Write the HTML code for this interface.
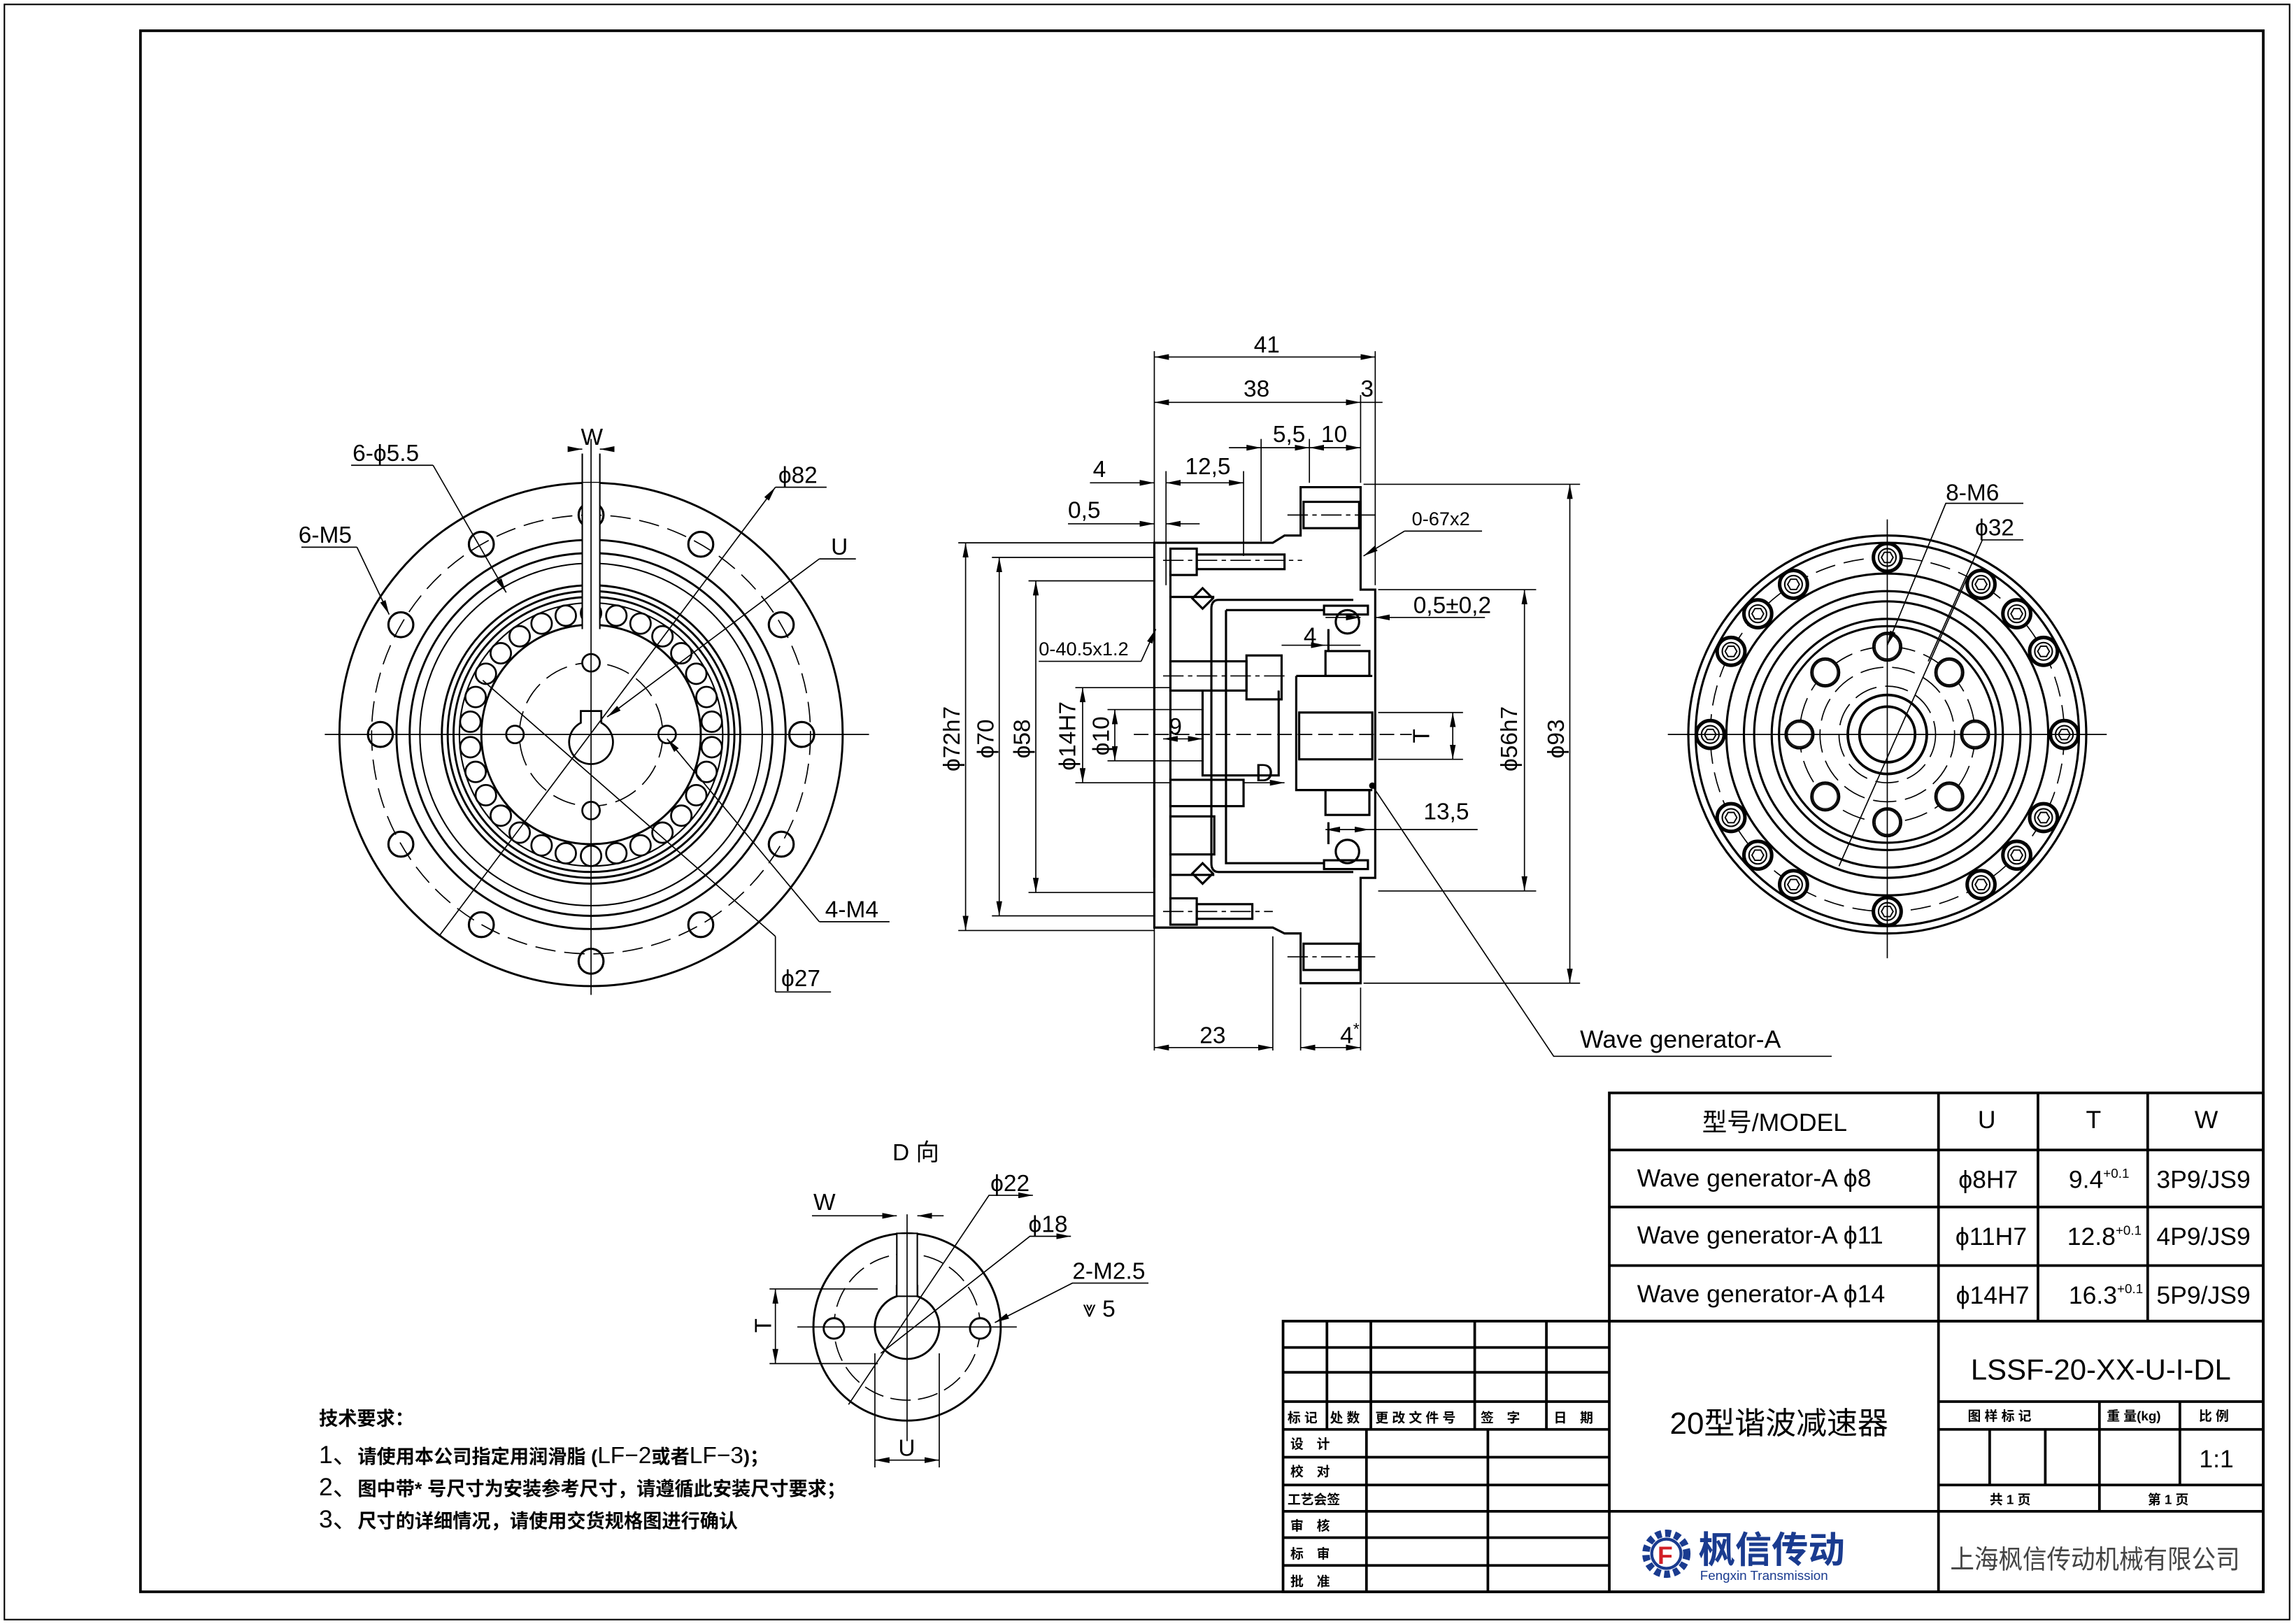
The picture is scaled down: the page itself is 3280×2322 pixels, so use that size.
<!DOCTYPE html>
<html><head><meta charset="utf-8">
<style>
html,body{margin:0;padding:0;background:#fff;}
svg{display:block;}
text{font-family:"Liberation Sans","Noto Sans CJK SC",sans-serif;fill:#000;}
</style></head><body>
<svg width="3280" height="2322" viewBox="0 0 1568 1110" xmlns="http://www.w3.org/2000/svg">
<defs>
<marker id="a" viewBox="0 0 10 4" refX="10" refY="2" markerWidth="10" markerHeight="4" orient="auto-start-reverse" markerUnits="userSpaceOnUse"><path d="M0,0 L10,2 L0,4 z" fill="#000"/></marker>
<g id="hx"><circle r="9.5" fill="#fff" stroke="#000" stroke-width="2.4"/><circle r="6" fill="none" stroke="#000" stroke-width="1"/><polygon points="-4,0 -2,-3.5 2,-3.5 4,0 2,3.5 -2,3.5" fill="none" stroke="#000" stroke-width="0.9"/></g>
<g id="ih"><circle r="9.5" fill="#fff" stroke="#000" stroke-width="1.6"/><circle r="8.3" fill="none" stroke="#000" stroke-width="0.7"/></g>
<g id="lh"><circle r="8.5" fill="none" stroke="#000" stroke-width="1.5"/></g>
<g id="ro"><circle r="7" fill="#fff" stroke="#000" stroke-width="1.3"/></g>
</defs>
<rect x="0" y="0" width="1568" height="1110" fill="#fff"/>
<rect x="3" y="3" width="1562" height="1104" fill="none" stroke="#000" stroke-width="1"/>
<rect x="96" y="21" width="1451" height="1067" fill="none" stroke="#000" stroke-width="1.8"/>

<!-- ================= LEFT VIEW ================= -->
<g fill="none" stroke="#000" stroke-width="1.4">
<circle cx="404" cy="502" r="172"/>
<circle cx="404" cy="502" r="150" stroke-width="0.8" stroke-dasharray="14 6"/>
<circle cx="404" cy="502" r="133"/>
<circle cx="404" cy="502" r="124"/>
<circle cx="404" cy="502" r="117" stroke-width="1"/>
<circle cx="404" cy="502" r="102"/>
<circle cx="404" cy="502" r="98"/>
<circle cx="404" cy="502" r="94"/>
<circle cx="404" cy="502" r="90" stroke-width="1"/>
<circle cx="404" cy="502" r="75"/>
<circle cx="404" cy="502" r="49" stroke-width="0.8" stroke-dasharray="16 6"/>
</g>
<g>
<use href="#lh" x="404" y="352"/><use href="#lh" x="479" y="372"/><use href="#lh" x="534" y="427"/>
<use href="#lh" x="534" y="577"/><use href="#lh" x="479" y="632"/><use href="#lh" x="404" y="657"/>
<use href="#lh" x="329" y="632"/><use href="#lh" x="274" y="577"/><use href="#lh" x="274" y="427"/><use href="#lh" x="329" y="372"/>
<use href="#lh" x="260" y="502"/><use href="#lh" x="548" y="502"/>
</g>
<g>
<use href="#ro" x="404" y="419"/><use href="#ro" x="421.3" y="420.8"/><use href="#ro" x="437.8" y="426.2"/><use href="#ro" x="452.8" y="434.9"/><use href="#ro" x="465.7" y="446.5"/><use href="#ro" x="475.9" y="460.5"/><use href="#ro" x="482.9" y="476.4"/><use href="#ro" x="486.5" y="493.3"/><use href="#ro" x="486.5" y="510.7"/><use href="#ro" x="482.9" y="527.6"/><use href="#ro" x="475.9" y="543.5"/><use href="#ro" x="465.7" y="557.5"/><use href="#ro" x="452.8" y="569.1"/><use href="#ro" x="437.8" y="577.8"/><use href="#ro" x="421.3" y="583.2"/><use href="#ro" x="404" y="585"/>
<use href="#ro" x="386.7" y="583.2"/><use href="#ro" x="370.2" y="577.8"/><use href="#ro" x="355.2" y="569.1"/><use href="#ro" x="342.3" y="557.5"/><use href="#ro" x="332.1" y="543.5"/><use href="#ro" x="325.1" y="527.6"/><use href="#ro" x="321.5" y="510.7"/><use href="#ro" x="321.5" y="493.3"/><use href="#ro" x="325.1" y="476.4"/><use href="#ro" x="332.1" y="460.5"/><use href="#ro" x="342.3" y="446.5"/><use href="#ro" x="355.2" y="434.9"/><use href="#ro" x="370.2" y="426.2"/><use href="#ro" x="386.7" y="420.8"/>
</g>
<g fill="#fff" stroke="#000" stroke-width="1.3">
<rect x="398" y="330" width="12" height="100" stroke="none"/>
<line x1="398" y1="310" x2="398" y2="430" stroke-width="1"/><line x1="410" y1="310" x2="410" y2="430" stroke-width="1"/>
<circle cx="404" cy="453" r="6"/><circle cx="404" cy="554" r="6"/><circle cx="352" cy="502" r="6"/><circle cx="456" cy="502" r="6"/>
<path d="M397,486 L397,494 A15,15 0 1 0 411,494 L411,486 Z"/>
</g>
<g stroke="#000" stroke-width="0.8" fill="none">
<line x1="222" y1="502" x2="594" y2="502"/>
<line x1="404" y1="300" x2="404" y2="680"/>
<line x1="296" y1="318" x2="346" y2="405" marker-end="url(#a)"/>
<line x1="240" y1="318" x2="296" y2="318"/>
<line x1="206" y1="374" x2="244" y2="374"/><line x1="244" y1="374" x2="266" y2="420" marker-end="url(#a)"/>
<line x1="390" y1="307" x2="398" y2="307" marker-end="url(#a)"/><line x1="418" y1="307" x2="410" y2="307" marker-end="url(#a)"/>
<line x1="530" y1="333" x2="565" y2="333"/><line x1="530" y1="333" x2="300" y2="640" marker-start="url(#a)"/>
<line x1="560" y1="382" x2="585" y2="382"/><line x1="560" y1="382" x2="415" y2="490" marker-end="url(#a)"/>
<line x1="330" y1="465" x2="530" y2="640"/><line x1="530" y1="640" x2="530" y2="678"/><line x1="530" y1="678" x2="568" y2="678"/>
<line x1="560" y1="630" x2="608" y2="630"/><line x1="560" y1="630" x2="456" y2="505" marker-end="url(#a)"/>
</g>
<g font-size="16">
<text x="241" y="315">6-ϕ5.5</text>
<text x="397" y="304">W</text>
<text x="532" y="330">ϕ82</text>
<text x="568" y="379">U</text>
<text x="204" y="371">6-M5</text>
<text x="564" y="627">4-M4</text>
<text x="534" y="674">ϕ27</text>
</g>

<!-- ================= SECTION VIEW ================= -->
<g fill="none" stroke="#000" stroke-width="1.5">
<path d="M789,403 L789,600"/>
<path d="M789,371 L870,371 L878,366 L889,366 L889,333 L930,333 L930,403 L940,403 L940,600 L930,600 L930,672 L889,672 L889,638 L878,638 L870,634 L789,634 Z" stroke-width="1.5"/>
<path d="M800,390 L800,615"/>
<rect x="891" y="343" width="38" height="18"/><rect x="891" y="645" width="38" height="18"/>
<rect x="800" y="375" width="18" height="18"/><rect x="818" y="379" width="60" height="10"/>
<rect x="800" y="614" width="18" height="18"/><rect x="818" y="618" width="38" height="10"/>
<path d="M833,410 L925,410 M833,410 Q828,410 828,416 L828,590 Q828,596 833,596 L925,596"/>
<path d="M838,417 L905,417 M838,417 L838,590 L905,590"/>
<path d="M800,408 L830,408 M800,598 L830,598"/>
<polygon points="822,402 829,409 822,416 815,409"/><polygon points="822,590 829,597 822,604 815,597"/>
<circle cx="921" cy="425" r="8"/><circle cx="921" cy="582" r="8"/>
<rect x="905" y="414" width="30" height="6"/><rect x="905" y="588" width="30" height="6"/>
<path d="M908,430 L908,445 M908,562 L908,577"/>
<rect x="800" y="452" width="52" height="20"/><rect x="852" y="448" width="24" height="30"/>
<rect x="800" y="533" width="50" height="18"/>
<rect x="800" y="558" width="30" height="26"/>
<path d="M822,472 L822,530 L874,530 L874,472"/>
<path d="M886,462 L938,462 M886,462 L886,540 L938,540"/>
<rect x="888" y="487" width="50" height="32"/>
<rect x="906" y="445" width="30" height="17"/><rect x="906" y="540" width="30" height="17"/>
</g>
<g stroke="#000" stroke-width="0.8" fill="none">
<line x1="789" y1="240" x2="789" y2="718"/><line x1="940" y1="240" x2="940" y2="400"/>
<line x1="930" y1="270" x2="930" y2="330"/><line x1="862" y1="300" x2="862" y2="370"/><line x1="895" y1="300" x2="895" y2="330"/>
<line x1="797" y1="322" x2="797" y2="400"/><line x1="850" y1="322" x2="850" y2="380"/>
<line x1="889" y1="675" x2="889" y2="718"/><line x1="930" y1="675" x2="930" y2="718"/><line x1="870" y1="640" x2="870" y2="718"/>
<line x1="655" y1="371" x2="789" y2="371"/><line x1="655" y1="636" x2="789" y2="636"/>
<line x1="678" y1="381" x2="789" y2="381"/><line x1="678" y1="626" x2="789" y2="626"/>
<line x1="703" y1="397" x2="789" y2="397"/><line x1="703" y1="610" x2="789" y2="610"/>
<line x1="735" y1="470" x2="800" y2="470"/><line x1="735" y1="535" x2="800" y2="535"/>
<line x1="757" y1="485" x2="822" y2="485"/><line x1="757" y1="520" x2="822" y2="520"/>
<line x1="942" y1="403" x2="1050" y2="403"/><line x1="942" y1="609" x2="1050" y2="609"/>
<line x1="932" y1="331" x2="1080" y2="331"/><line x1="932" y1="672" x2="1080" y2="672"/>
<line x1="942" y1="487" x2="1000" y2="487"/><line x1="942" y1="519" x2="1000" y2="519"/>
<line x1="789" y1="244" x2="940" y2="244" marker-start="url(#a)" marker-end="url(#a)"/>
<line x1="789" y1="275" x2="930" y2="275" marker-start="url(#a)" marker-end="url(#a)"/>
<line x1="930" y1="275" x2="945" y2="275"/>
<line x1="840" y1="306" x2="862" y2="306" marker-end="url(#a)"/><line x1="862" y1="306" x2="895" y2="306" marker-end="url(#a)"/><line x1="895" y1="306" x2="930" y2="306" marker-start="url(#a)" marker-end="url(#a)"/>
<line x1="745" y1="330" x2="789" y2="330" marker-end="url(#a)"/>
<line x1="797" y1="330" x2="850" y2="330" marker-start="url(#a)" marker-end="url(#a)"/>
<line x1="730" y1="358" x2="789" y2="358" marker-end="url(#a)"/><line x1="820" y1="358" x2="797" y2="358" marker-end="url(#a)"/>
<line x1="660" y1="371" x2="660" y2="636" marker-start="url(#a)" marker-end="url(#a)"/>
<line x1="683" y1="381" x2="683" y2="626" marker-start="url(#a)" marker-end="url(#a)"/>
<line x1="708" y1="397" x2="708" y2="610" marker-start="url(#a)" marker-end="url(#a)"/>
<line x1="740" y1="470" x2="740" y2="535" marker-start="url(#a)" marker-end="url(#a)"/>
<line x1="762" y1="485" x2="762" y2="520" marker-start="url(#a)" marker-end="url(#a)"/>
<line x1="1042" y1="403" x2="1042" y2="609" marker-start="url(#a)" marker-end="url(#a)"/>
<line x1="1073" y1="331" x2="1073" y2="672" marker-start="url(#a)" marker-end="url(#a)"/>
<line x1="993" y1="487" x2="993" y2="519" marker-start="url(#a)" marker-end="url(#a)"/>
<line x1="789" y1="716" x2="870" y2="716" marker-start="url(#a)" marker-end="url(#a)"/>
<line x1="889" y1="716" x2="930" y2="716" marker-start="url(#a)" marker-end="url(#a)"/>
<line x1="795" y1="505" x2="822" y2="505" marker-start="url(#a)" marker-end="url(#a)"/>
<line x1="906" y1="567" x2="936" y2="567" marker-start="url(#a)" marker-end="url(#a)"/><line x1="936" y1="567" x2="1010" y2="567"/>
<line x1="876" y1="441" x2="906" y2="441" marker-end="url(#a)"/><line x1="930" y1="441" x2="906" y2="441"/>
<line x1="1015" y1="422" x2="940" y2="422" marker-end="url(#a)"/><line x1="906" y1="422" x2="930" y2="422" marker-end="url(#a)"/>
<line x1="960" y1="363" x2="1013" y2="363"/><line x1="960" y1="363" x2="932" y2="380" marker-end="url(#a)"/>
<line x1="710" y1="452" x2="780" y2="452"/><line x1="780" y1="452" x2="790" y2="430" marker-end="url(#a)"/>
<line x1="850" y1="535" x2="878" y2="535" marker-end="url(#a)"/>
<line x1="775" y1="502" x2="965" y2="502" stroke-dasharray="10 4"/>
<line x1="795" y1="383" x2="890" y2="383" stroke-dasharray="14 3 3 3"/>
<line x1="880" y1="352" x2="940" y2="352" stroke-dasharray="14 3 3 3"/>
<line x1="880" y1="654" x2="940" y2="654" stroke-dasharray="14 3 3 3"/>
<line x1="795" y1="462" x2="880" y2="462" stroke-dasharray="14 3 3 3"/>
<line x1="795" y1="623" x2="870" y2="623" stroke-dasharray="14 3 3 3"/>
<circle cx="938" cy="537" r="1.8" fill="#000"/>
<polyline points="938,537 1062,722 1252,722"/>
</g>
<g font-size="16">
<text x="857" y="241">41</text>
<text x="850" y="271">38</text>
<text x="930" y="271">3</text>
<text x="870" y="302">5,5</text>
<text x="903" y="302">10</text>
<text x="747" y="326">4</text>
<text x="810" y="324">12,5</text>
<text x="730" y="354">0,5</text>
<text x="965" y="359" font-size="13">0-67x2</text>
<text x="966" y="419">0,5±0,2</text>
<text x="710" y="448" font-size="13">0-40.5x1.2</text>
<text x="891" y="440">4</text>
<text x="799" y="502">9</text>
<text x="858" y="534" font-size="17">D</text>
<text x="973" y="560">13,5</text>
<text x="820" y="713">23</text>
<text x="916" y="713">4<tspan font-size="11" dy="-6">*</tspan></text>
<text transform="translate(656,505) rotate(-90)" text-anchor="middle">ϕ72h7</text>
<text transform="translate(679,505) rotate(-90)" text-anchor="middle">ϕ70</text>
<text transform="translate(704,505) rotate(-90)" text-anchor="middle">ϕ58</text>
<text transform="translate(735,503) rotate(-90)" text-anchor="middle">ϕ14H7</text>
<text transform="translate(758,503) rotate(-90)" text-anchor="middle">ϕ10</text>
<text transform="translate(1037,505) rotate(-90)" text-anchor="middle">ϕ56h7</text>
<text transform="translate(1069,505) rotate(-90)" text-anchor="middle">ϕ93</text>
<text transform="translate(977,503) rotate(-90)" text-anchor="middle">T</text>
<text x="1080" y="716" font-size="17">Wave generator-A</text>
</g>

<!-- ================= RIGHT VIEW ================= -->
<g fill="none" stroke="#000" stroke-width="1.5">
<circle cx="1290" cy="502" r="136"/>
<circle cx="1290" cy="502" r="131"/>
<circle cx="1290" cy="502" r="121" stroke-width="0.8" stroke-dasharray="14 6"/>
<circle cx="1290" cy="502" r="110"/>
<circle cx="1290" cy="502" r="98"/>
<circle cx="1290" cy="502" r="91"/>
<circle cx="1290" cy="502" r="79"/>
<circle cx="1290" cy="502" r="74"/>
<circle cx="1290" cy="502" r="60" stroke-width="0.8" stroke-dasharray="16 6"/>
<circle cx="1290" cy="502" r="46" stroke-width="0.8" stroke-dasharray="16 6"/>
<circle cx="1290" cy="502" r="33" stroke-width="0.8" stroke-dasharray="16 6"/>
<circle cx="1290" cy="502" r="27" stroke-width="1.8"/>
<circle cx="1290" cy="502" r="19" stroke-width="1.8"/>
</g>
<g>
<use href="#hx" x="1290" y="381"/><use href="#hx" x="1290" y="623"/><use href="#hx" x="1169" y="502"/><use href="#hx" x="1411" y="502"/>
<use href="#hx" x="1354.1" y="399.4"/><use href="#hx" x="1378.5" y="419.5"/><use href="#hx" x="1396.8" y="445.2"/>
<use href="#hx" x="1225.9" y="399.4"/><use href="#hx" x="1201.5" y="419.5"/><use href="#hx" x="1183.2" y="445.2"/>
<use href="#hx" x="1354.1" y="604.6"/><use href="#hx" x="1378.5" y="584.5"/><use href="#hx" x="1396.8" y="558.8"/>
<use href="#hx" x="1225.9" y="604.6"/><use href="#hx" x="1201.5" y="584.5"/><use href="#hx" x="1183.2" y="558.8"/>
<use href="#ih" x="1290" y="442"/><use href="#ih" x="1290" y="562"/><use href="#ih" x="1230" y="502"/><use href="#ih" x="1350" y="502"/>
<use href="#ih" x="1332.4" y="459.6"/><use href="#ih" x="1247.6" y="459.6"/><use href="#ih" x="1332.4" y="544.4"/><use href="#ih" x="1247.6" y="544.4"/>
</g>
<g stroke="#000" stroke-width="0.8" fill="none">
<line x1="1140" y1="502" x2="1440" y2="502"/><line x1="1290" y1="355" x2="1290" y2="655"/>
<polyline points="1383,344 1330,344 1290,441" marker-end="url(#a)"/>
<polyline points="1383,369 1355,369 1318,452"/>
<line x1="1345" y1="394" x2="1257" y2="592"/>
</g>
<g font-size="16">
<text x="1330" y="342">8-M6</text>
<text x="1350" y="366">ϕ32</text>
</g>

<!-- ================= D VIEW ================= -->
<g fill="none" stroke="#000" stroke-width="1.4">
<circle cx="620" cy="907" r="64"/>
<circle cx="620" cy="907" r="50" stroke-width="0.8" stroke-dasharray="14 5"/>
<path d="M613,886 L613,879 L627,879 L627,886 A22,22 0 1 1 613,886 Z" fill="#fff"/>
<rect x="613" y="843" width="14" height="43" stroke-width="1" fill="#fff"/>
<circle cx="570" cy="908" r="7" fill="#fff"/><circle cx="670" cy="908" r="7" fill="#fff"/>
</g>
<g stroke="#000" stroke-width="0.8" fill="none">
<line x1="545" y1="907" x2="695" y2="907"/><line x1="620" y1="830" x2="620" y2="985"/>
<polyline points="706,817 676,817 580,960" marker-start="url(#a)"/>
<polyline points="732,845 704,845 602,925" marker-start="url(#a)"/>
<polyline points="785,877 733,877 680,904" marker-end="url(#a)"/>
<line x1="555" y1="831" x2="613" y2="831" marker-end="url(#a)"/><line x1="645" y1="831" x2="627" y2="831" marker-end="url(#a)"/>
<line x1="530" y1="881" x2="530" y2="932" marker-start="url(#a)" marker-end="url(#a)"/>
<line x1="526" y1="881" x2="600" y2="881"/><line x1="526" y1="932" x2="600" y2="932"/>
<line x1="598" y1="998" x2="642" y2="998" marker-start="url(#a)" marker-end="url(#a)"/>
<line x1="598" y1="925" x2="598" y2="1003"/><line x1="642" y1="925" x2="642" y2="1003"/>
</g>
<g font-size="16">
<text x="610" y="793">D 向</text>
<text x="677" y="814">ϕ22</text>
<text x="703" y="842">ϕ18</text>
<text x="733" y="874">2-M2.5</text>
<text x="740" y="900">⩔ 5</text>
<text x="556" y="827">W</text>
<text transform="translate(527,906) rotate(-90)" text-anchor="middle">T</text>
<text x="614" y="995">U</text>
</g>

<!-- ================= NOTES ================= -->
<g font-size="13" font-weight="bold">
<text x="218" y="974">技术要求：</text>
<text x="218" y="1000"><tspan font-size="17" font-weight="normal">1、</tspan>请使用本公司指定用润滑脂 (<tspan font-size="16" font-weight="normal">LF−2</tspan>或者<tspan font-size="16" font-weight="normal">LF−3</tspan>)；</text>
<text x="218" y="1022"><tspan font-size="17" font-weight="normal">2、</tspan>图中带* 号尺寸为安装参考尺寸，请遵循此安装尺寸要求；</text>
<text x="218" y="1044"><tspan font-size="17" font-weight="normal">3、</tspan>尺寸的详细情况，请使用交货规格图进行确认</text>
</g>

<!-- ================= TABLES ================= -->
<g stroke="#000" stroke-width="1.8" fill="none">
<rect x="1100" y="747" width="447" height="156"/>
<line x1="1100" y1="786" x2="1547" y2="786"/><line x1="1100" y1="825" x2="1547" y2="825"/><line x1="1100" y1="865" x2="1547" y2="865"/>
<line x1="1325" y1="747" x2="1325" y2="903"/><line x1="1393" y1="747" x2="1393" y2="903"/><line x1="1468" y1="747" x2="1468" y2="903"/>
<rect x="877" y="903" width="670" height="185"/>
<line x1="1100" y1="903" x2="1100" y2="1088"/><line x1="1325" y1="903" x2="1325" y2="1088"/>
<line x1="877" y1="921" x2="1100" y2="921"/><line x1="877" y1="938" x2="1100" y2="938"/><line x1="877" y1="958" x2="1100" y2="958"/>
<line x1="877" y1="977" x2="1100" y2="977"/><line x1="877" y1="996" x2="1100" y2="996"/><line x1="877" y1="1015" x2="1100" y2="1015"/>
<line x1="877" y1="1033" x2="1547" y2="1033"/><line x1="877" y1="1051" x2="1100" y2="1051"/><line x1="877" y1="1070" x2="1100" y2="1070"/>
<line x1="907" y1="903" x2="907" y2="977"/><line x1="937" y1="903" x2="937" y2="977"/><line x1="1008" y1="903" x2="1008" y2="977"/><line x1="1057" y1="903" x2="1057" y2="977"/>
<line x1="934" y1="977" x2="934" y2="1088"/><line x1="1017" y1="977" x2="1017" y2="1088"/>
<line x1="1325" y1="958" x2="1547" y2="958"/><line x1="1325" y1="977" x2="1547" y2="977"/><line x1="1325" y1="1015" x2="1547" y2="1015"/>
<line x1="1435" y1="958" x2="1435" y2="1033"/><line x1="1490" y1="958" x2="1490" y2="1015"/>
<line x1="1360" y1="977" x2="1360" y2="1015"/><line x1="1398" y1="977" x2="1398" y2="1015"/>
</g>
<g font-size="17">
<text x="1213" y="773" text-anchor="middle">型号/MODEL</text>
<text x="1358" y="771" text-anchor="middle">U</text>
<text x="1431" y="771" text-anchor="middle">T</text>
<text x="1508" y="771" text-anchor="middle">W</text>
<text x="1119" y="811">Wave generator-A ϕ8</text>
<text x="1119" y="850">Wave generator-A ϕ11</text>
<text x="1119" y="890">Wave generator-A ϕ14</text>
<text x="1359" y="812" text-anchor="middle">ϕ8H7</text>
<text x="1361" y="851" text-anchor="middle">ϕ11H7</text>
<text x="1362" y="891" text-anchor="middle">ϕ14H7</text>
<text x="1414" y="812">9.4<tspan font-size="9" dy="-7">+0.1</tspan></text>
<text x="1413" y="851">12.8<tspan font-size="9" dy="-7">+0.1</tspan></text>
<text x="1414" y="891">16.3<tspan font-size="9" dy="-7">+0.1</tspan></text>
<text x="1474" y="812">3P9/JS9</text>
<text x="1474" y="851">4P9/JS9</text>
<text x="1474" y="891">5P9/JS9</text>
<text x="1436" y="943" text-anchor="middle" font-size="20">LSSF-20-XX-U-I-DL</text>
<text x="1216" y="980" text-anchor="middle" font-size="21">20型谐波减速器</text>
<text x="1515" y="1003" text-anchor="middle">1:1</text>
<text x="1333" y="1072" font-size="18" textLength="198" lengthAdjust="spacingAndGlyphs" style="fill:#444">上海枫信传动机械有限公司</text>
</g>
<g font-size="9" font-weight="bold">
<text x="880" y="972">标 记</text><text x="909" y="972">处 数</text><text x="940" y="972">更 改 文 件 号</text><text x="1012" y="972">签　字</text><text x="1062" y="972">日　期</text>
<text x="882" y="990">设　计</text><text x="882" y="1009">校　对</text><text x="880" y="1028">工艺会签</text>
<text x="882" y="1046">审　核</text><text x="882" y="1065">标　审</text><text x="882" y="1084">批　准</text>
<text x="1345" y="971">图 样 标 记</text><text x="1440" y="971">重 量(kg)</text><text x="1503" y="971">比 例</text>
<text x="1360" y="1028">共 1 页</text><text x="1468" y="1028">第 1 页</text>
</g>
<g>
<circle cx="1139" cy="1062" r="14" fill="none" stroke="#1a3b8f" stroke-width="5" stroke-dasharray="4 2.5"/>
<circle cx="1139" cy="1062" r="10" fill="#fff" stroke="#1a3b8f" stroke-width="2"/>
<text x="1133" y="1069" font-size="17" font-weight="bold" style="fill:#d21f26">F</text>
<text x="1161" y="1068" font-size="25" font-weight="bold" style="fill:#1a3b8f">枫信传动</text>
<text x="1162" y="1080" font-size="9" style="fill:#1a3b8f">Fengxin Transmission</text>
</g>
</svg>
</body></html>
